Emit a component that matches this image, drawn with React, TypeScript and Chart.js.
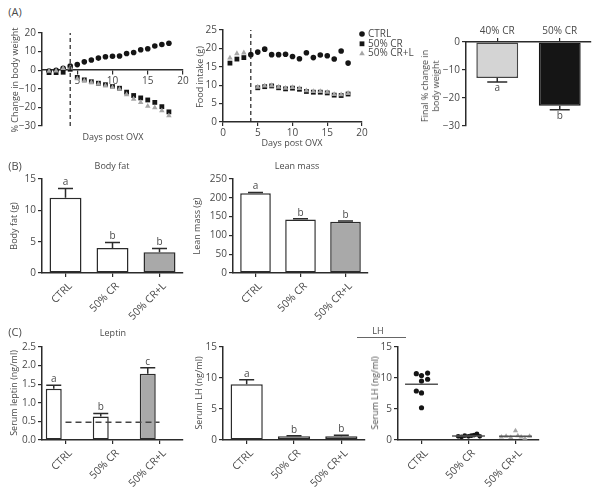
import React, { useEffect, useRef } from 'react';
import { Chart, registerables } from 'chart.js';
import { drawPoint } from 'chart.js/helpers';

Chart.register(...registerables);

const FONT = '"Open Sans", "Noto Sans", "DejaVu Sans", sans-serif';
const TXT = '#4a4a4a';
const AX = '#2b2b2b';
const BLACK = '#151515';
const GREY_MARK = '#a6a6a6';
const GREY_BAR = '#a9a9a9';
const LIGHT_BAR = '#d4d4d4';

// ---------------- Data ----------------
const days = [1, 2, 3, 4, 5, 6, 7, 8, 9, 10, 11, 12, 13, 14, 15, 16, 17, 18];
const ovxDay = 4;
const groupNames = ['CTRL', '50% CR', '50% CR+L'];

// (A) % change in body weight
const bwCtrl = [-0.5, 0, 1, 2.2, 3, 4.5, 5.5, 6.5, 7.2, 7.5, 7.6, 9, 9.5, 11, 11.5, 13, 13.8, 14.5];
const bwCR = [-1.3, -1.3, -1.1, 0.5, -3.9, -5.2, -6.2, -7, -7.8, -8.8, -9.7, -11.8, -13.6, -14.9, -16, -17.3, -19.6, -22.4];
const bwCRL = [-0.5, -0.4, 1, 1.3, -4.6, -5.6, -6.6, -7.4, -8.3, -9.3, -10.2, -13.1, -15.5, -17.3, -19.3, -20.2, -21.8, -24.5];

// (A) food intake (g)
const fiCtrl = [null, null, null, 18.3, 19.0, 19.8, 18.3, 18.3, 18.4, 17.8, 17.2, 18.8, 17.5, 18.2, 18.0, 17.1, 19.3, 16.0];
const fiCR = [16.0, 17.1, 17.5, null, 9.3, 9.6, 9.8, 9.3, 9.0, 9.2, 8.9, 8.3, 8.1, 8.1, 7.9, 7.3, 7.2, 7.6];
const fiCRL = [17.4, 18.6, 18.8, null, 9.5, 9.8, 9.9, 9.5, 9.2, 9.4, 9.1, 8.5, 8.3, 8.3, 8.1, 7.5, 7.4, 7.8];

// (A) final % change in body weight
const finalCats = ['40% CR', '50% CR'];
const finalChange = [-12.9, -22.8];
const finalErr = [1.4, 1.4];
const finalLetters = ['a', 'b'];

// (B)
const bodyFat = [12.0, 4.0, 3.3];
const bodyFatErr = [1.5, 0.85, 0.6];
const bodyFatLetters = ['a', 'b', 'b'];
const leanMass = [212, 142, 136];
const leanMassErr = [2, 2, 2];
const leanMassLetters = ['a', 'b', 'b'];

// (C)
const leptin = [1.38, 0.63, 1.78];
const leptinErr = [0.09, 0.08, 0.16];
const leptinLetters = ['a', 'b', 'c'];
const leptinLimit = 0.48;
const lhBar = [9.0, 0.62, 0.6];
const lhBarErr = [0.7, 0.08, 0.18];
const lhLetters = ['a', 'b', 'b'];

const lhCtrl = [10.7, 10.4, 10.8, 9.5, 9.8, 7.9, 7.6, 5.2];
const lhCtrlJit = [-0.11, 0, 0.13, 0, 0.13, -0.11, 0, 0];
const lhCR = [0.6, 0.5, 0.7, 0.6, 0.7, 0.8, 1.0, 0.6];
const lhCRJit = [-0.22, -0.15, -0.08, 0, 0.06, 0.12, 0.18, 0.24];
const lhCRL = [0.5, 0.6, 0.4, 1.5, 0.7, 0.5, 0.3, 0.6];
const lhCRLJit = [-0.3, -0.2, -0.1, 0, 0.05, 0.12, 0.2, 0.3];
const lhGroupMean = [9.0, 0.65, 0.6];

// ---------------- Helpers ----------------
type Box = {
  area: [number, number, number, number];
  yw: number; xh: number; xpos: 'bottom' | 'top' | 'center';
  pt: number; pr: number; pb: number;
};

const tickFont = { family: FONT, size: 10 };
const catFont = { family: FONT, size: 10.5 };
const gridOpts = { drawOnChartArea: false, drawTicks: true, tickLength: 4, color: AX, lineWidth: 1.2, offset: false };
const borderOpts = { color: AX, width: 1.5 };
const minus = (v: any) => String(v).replace('-', '\u2212');

const fixY = (w: number) => (s: any) => {
  s.width = w; s.paddingTop = 0; s.paddingBottom = 0; s.paddingLeft = 0; s.paddingRight = 0;
};
const fixX = (h: number) => (s: any) => {
  s.height = h; s.paddingTop = 0; s.paddingBottom = 0; s.paddingLeft = 0; s.paddingRight = 0;
};

const pts = (xs: number[], ys: (number | null)[]) =>
  xs.map((x, i) => ({ x, y: ys[i] })).filter((p) => p.y !== null);

const errorBars = {
  id: 'errorBars',
  afterDatasetsDraw(chart: any, _a: any, opts: any) {
    if (!opts || !opts.errors) return;
    const meta = chart.getDatasetMeta(0);
    const ys = chart.scales.y;
    const data = chart.data.datasets[0].data;
    const ctx = chart.ctx;
    ctx.save();
    ctx.strokeStyle = AX;
    ctx.lineWidth = 1.5;
    ctx.fillStyle = TXT;
    ctx.font = `10px ${FONT}`;
    ctx.textAlign = 'center';
    meta.data.forEach((bar: any, i: number) => {
      const v = data[i];
      const sign = v < 0 ? -1 : 1;
      const y0 = ys.getPixelForValue(v);
      const y1 = ys.getPixelForValue(v + sign * opts.errors[i]);
      const x = bar.x;
      const cap = opts.cap || 15;
      ctx.beginPath();
      ctx.moveTo(x, y0);
      ctx.lineTo(x, y1);
      ctx.moveTo(x - cap / 2, y1);
      ctx.lineTo(x + cap / 2, y1);
      ctx.stroke();
      if (opts.letters) {
        ctx.textBaseline = sign > 0 ? 'bottom' : 'top';
        ctx.fillText(opts.letters[i], x, sign > 0 ? y1 - 1 : y1 + 1);
      }
    });
    ctx.restore();
  },
};

const inlineLegend = {
  id: 'inlineLegend',
  afterDraw(chart: any, _a: any, opts: any) {
    if (!opts || !opts.items) return;
    const { ctx, chartArea } = chart;
    ctx.save();
    ctx.font = `10px ${FONT}`;
    ctx.textBaseline = 'middle';
    ctx.textAlign = 'left';
    opts.items.forEach((idx: number, i: number) => {
      const ds = chart.data.datasets[idx];
      const x = chartArea.right + opts.dx;
      const y = chartArea.top + opts.dy + i * opts.gap;
      ctx.fillStyle = ds.backgroundColor;
      ctx.strokeStyle = ds.backgroundColor;
      drawPoint(ctx, { pointStyle: ds.pointStyle, radius: ds.pointRadius, borderWidth: 0, rotation: 0 } as any, x, y);
      ctx.fillStyle = TXT;
      ctx.fillText(ds.label, x + opts.tx, y);
    });
    ctx.restore();
  },
};

function canvasRect(b: Box) {
  const [x0, y0, x1, y1] = b.area;
  const W = b.yw + (x1 - x0) + b.pr;
  let top: number;
  let H: number;
  if (b.xpos === 'top') {
    top = y0 - b.xh - b.pt;
    H = b.pt + b.xh + (y1 - y0) + b.pb;
  } else if (b.xpos === 'bottom') {
    top = y0 - b.pt;
    H = b.pt + (y1 - y0) + b.xh + b.pb;
  } else {
    top = y0 - b.pt;
    H = b.pt + (y1 - y0) + b.pb;
  }
  return { left: x0 - b.yw, top, W, H };
}

function ChartBox({ box, make }: { box: Box; make: () => any }) {
  const ref = useRef<HTMLCanvasElement>(null);
  const r = canvasRect(box);
  useEffect(() => {
    const cfg = make();
    const chart = new Chart(ref.current as HTMLCanvasElement, cfg);
    return () => chart.destroy();
  }, []);
  return (
    <canvas
      ref={ref}
      width={r.W}
      height={r.H}
      style={{ position: 'absolute', left: r.left, top: r.top, width: r.W, height: r.H }}
    />
  );
}

function baseOptions(b: Box) {
  return {
    responsive: false,
    animation: false,
    events: [],
    devicePixelRatio: 1,
    layout: { padding: { left: 0, top: b.pt, right: b.pr, bottom: b.pb } },
  };
}

function yAxis(b: Box, min: number, max: number, step: number, fmt?: (v: any) => string) {
  return {
    type: 'linear',
    position: 'left',
    min, max,
    afterFit: fixY(b.yw),
    grid: gridOpts,
    border: borderOpts,
    ticks: { stepSize: step, color: TXT, font: tickFont, padding: 2, callback: fmt || ((v: any) => String(v)) },
  };
}

const catTicks = { color: TXT, font: catFont, padding: 3, labelOffset: 5, maxRotation: 45, minRotation: 45, autoSkip: false };

// ---------------- Chart configs ----------------
const boxA1: Box = { area: [42, 33, 183, 126], yw: 40, xh: 0, xpos: 'center', pt: 8, pr: 10, pb: 8 };
const boxA2: Box = { area: [223, 30, 362, 122], yw: 30, xh: 20, xpos: 'bottom', pt: 8, pr: 80, pb: 2 };
const boxA3: Box = { area: [466, 42, 591, 126], yw: 34, xh: 20, xpos: 'top', pt: 2, pr: 6, pb: 6 };
const boxB1: Box = { area: [42, 179, 183, 273], yw: 30, xh: 55, xpos: 'bottom', pt: 10, pr: 10, pb: 0 };
const boxB2: Box = { area: [233, 179, 368, 273], yw: 32, xh: 55, xpos: 'bottom', pt: 10, pr: 10, pb: 0 };
const boxC1: Box = { area: [42, 347, 183, 440], yw: 30, xh: 60, xpos: 'bottom', pt: 8, pr: 10, pb: 0 };
const boxC2: Box = { area: [223, 347, 365, 440], yw: 30, xh: 60, xpos: 'bottom', pt: 8, pr: 10, pb: 0 };
const boxC3: Box = { area: [398, 347, 539, 440], yw: 30, xh: 60, xpos: 'bottom', pt: 8, pr: 10, pb: 0 };

function markerSets(ctrl: (number | null)[], cr: (number | null)[], crl: (number | null)[]) {
  return [
    { label: groupNames[0], data: pts(days, ctrl), pointStyle: 'circle', pointRadius: 2.8, backgroundColor: BLACK, borderColor: BLACK, borderWidth: 0, order: 3 },
    { label: groupNames[1], data: pts(days, cr), pointStyle: 'rect', pointRadius: 3.4, backgroundColor: BLACK, borderColor: BLACK, borderWidth: 0, order: 2 },
    { label: groupNames[2], data: pts(days, crl), pointStyle: 'triangle', pointRadius: 3.2, backgroundColor: GREY_MARK, borderColor: GREY_MARK, borderWidth: 0, order: 1 },
  ];
}

function makeA1() {
  return {
    type: 'scatter',
    data: {
      datasets: [
        { label: 'OVX', data: [{ x: ovxDay, y: -30 }, { x: ovxDay, y: 20 }], showLine: true, borderColor: '#222', borderWidth: 1.2, borderDash: [4, 3], pointRadius: 0, order: 0 },
        ...markerSets(bwCtrl, bwCR, bwCRL),
      ],
    },
    options: {
      ...baseOptions(boxA1),
      plugins: { legend: { display: false }, tooltip: { enabled: false } },
      scales: {
        x: {
          type: 'linear', position: { y: 0 }, min: 0, max: 20,
          afterFit: fixX(0),
          grid: gridOpts, border: borderOpts,
          ticks: { stepSize: 5, color: TXT, font: tickFont, padding: 1, callback: (v: any) => (v === 0 ? '' : String(v)) },
        },
        y: yAxis(boxA1, -30, 20, 10, minus),
      },
    },
  };
}

function makeA2() {
  return {
    type: 'scatter',
    data: {
      datasets: [
        { label: 'OVX', data: [{ x: ovxDay, y: 0 }, { x: ovxDay, y: 25 }], showLine: true, borderColor: '#222', borderWidth: 1.2, borderDash: [4, 3], pointRadius: 0, order: 0 },
        ...markerSets(fiCtrl, fiCR, fiCRL),
      ],
    },
    plugins: [inlineLegend],
    options: {
      ...baseOptions(boxA2),
      plugins: {
        legend: { display: false }, tooltip: { enabled: false },
        inlineLegend: { items: [1, 2, 3], dx: 0, dy: 4, gap: 9.8, tx: 6 },
      },
      scales: {
        x: {
          type: 'linear', position: 'bottom', min: 0, max: 20,
          afterFit: fixX(boxA2.xh),
          grid: gridOpts, border: borderOpts,
          ticks: { stepSize: 5, color: TXT, font: tickFont, padding: 1 },
        },
        y: yAxis(boxA2, 0, 25, 5),
      },
    },
  };
}

function makeA3() {
  return {
    type: 'bar',
    data: {
      labels: finalCats,
      datasets: [{
        data: finalChange,
        backgroundColor: [LIGHT_BAR, BLACK],
        borderColor: ['#444', BLACK],
        borderWidth: 1.5,
        borderSkipped: false,
        barPercentage: 0.67,
        categoryPercentage: 1,
      }],
    },
    plugins: [errorBars],
    options: {
      ...baseOptions(boxA3),
      plugins: {
        legend: { display: false }, tooltip: { enabled: false },
        errorBars: { errors: finalErr, letters: finalLetters, cap: 20 },
      },
      scales: {
        x: {
          type: 'category', position: 'top',
          afterFit: fixX(boxA3.xh),
          grid: gridOpts, border: borderOpts,
          ticks: { color: TXT, font: tickFont, padding: 1, maxRotation: 0, minRotation: 0 },
        },
        y: yAxis(boxA3, -30, 0, 10, minus),
      },
    },
  };
}

function makeBar(b: Box, values: number[], errs: number[], letters: string[], min: number, max: number, step: number, fmt?: (v: any) => string, extra?: any) {
  const datasets: any[] = [{
    data: values,
    backgroundColor: ['#ffffff', '#ffffff', GREY_BAR],
    borderColor: AX,
    borderWidth: 1.5,
    borderSkipped: false,
    barPercentage: 0.68,
    categoryPercentage: 1,
    order: 1,
  }];
  const scales: any = {
    x: {
      type: 'category', position: 'bottom',
      afterFit: fixX(b.xh),
      grid: gridOpts, border: borderOpts,
      ticks: catTicks,
    },
    y: yAxis(b, min, max, step, fmt),
  };
  if (extra) {
    datasets.push(extra.dataset);
    scales.x2 = extra.scale;
  }
  return {
    type: 'bar',
    data: { labels: groupNames, datasets },
    plugins: [errorBars],
    options: {
      ...baseOptions(b),
      plugins: {
        legend: { display: false }, tooltip: { enabled: false },
        errorBars: { errors: errs, letters, cap: 15 },
      },
      scales,
    },
  };
}

function makeC1() {
  return makeBar(boxC1, leptin, leptinErr, leptinLetters, 0, 2.5, 0.5, (v: any) => Number(v).toFixed(1), {
    dataset: {
      type: 'line', xAxisID: 'x2',
      data: [{ x: 0, y: leptinLimit }, { x: 1, y: leptinLimit }],
      borderColor: '#444', borderWidth: 1.5, borderDash: [6, 4], pointRadius: 0, order: 0, clip: false,
    },
    scale: { type: 'linear', display: false, min: 0, max: 1 },
  });
}

function makeC3() {
  const jit = (c: number, vals: number[], j: number[]) => vals.map((v, i) => ({ x: c + j[i], y: v }));
  const meanLine = (c: number, m: number) => ({
    data: [{ x: c - 0.35, y: m }, { x: c + 0.35, y: m }],
    showLine: true, borderColor: '#555', borderWidth: 1.5, pointRadius: 0, order: 0,
  });
  return {
    type: 'scatter',
    data: {
      datasets: [
        meanLine(1, lhGroupMean[0]),
        meanLine(2, lhGroupMean[1]),
        meanLine(3, lhGroupMean[2]),
        { data: jit(1, lhCtrl, lhCtrlJit), pointStyle: 'circle', pointRadius: 2.6, backgroundColor: BLACK, borderWidth: 0, order: 3 },
        { data: jit(2, lhCR, lhCRJit), pointStyle: 'circle', pointRadius: 2.4, backgroundColor: BLACK, borderWidth: 0, order: 2 },
        { data: jit(3, lhCRL, lhCRLJit), pointStyle: 'triangle', pointRadius: 3, backgroundColor: GREY_MARK, borderWidth: 0, order: 1 },
      ],
    },
    options: {
      ...baseOptions(boxC3),
      plugins: { legend: { display: false }, tooltip: { enabled: false } },
      scales: {
        x: {
          type: 'linear', position: 'bottom', min: 0.5, max: 3.5,
          afterFit: fixX(boxC3.xh),
          afterBuildTicks: (s: any) => { s.ticks = [1, 2, 3].map((v) => ({ value: v })); },
          grid: gridOpts, border: borderOpts,
          ticks: { ...catTicks, callback: (v: any) => groupNames[Math.round(v) - 1] || '' },
        },
        y: yAxis(boxC3, 0, 15, 5),
      },
    },
  };
}

// ---------------- Text ----------------
function T({ x, y, s = 9, rot = 0, children, lh }: { x: number; y: number; s?: number; rot?: number; children: any; lh?: number }) {
  return (
    <div
      style={{
        position: 'absolute', left: x, top: y,
        transform: `translate(-50%, -50%) rotate(${rot}deg)`,
        fontFamily: FONT, fontSize: s, color: TXT, whiteSpace: 'nowrap',
        lineHeight: lh ? `${lh}px` : 1.1, textAlign: 'center',
      }}
    >
      {children}
    </div>
  );
}

export default function App() {
  return (
    <div style={{ position: 'absolute', left: 0, top: 0, width: 600, height: 487, background: '#fff', overflow: 'hidden' }}>
      <ChartBox box={boxA1} make={makeA1} />
      <ChartBox box={boxA2} make={makeA2} />
      <ChartBox box={boxA3} make={makeA3} />
      <ChartBox box={boxB1} make={() => makeBar(boxB1, bodyFat, bodyFatErr, bodyFatLetters, 0, 15, 5)} />
      <ChartBox box={boxB2} make={() => makeBar(boxB2, leanMass, leanMassErr, leanMassLetters, 0, 250, 50)} />
      <ChartBox box={boxC1} make={makeC1} />
      <ChartBox box={boxC2} make={() => makeBar(boxC2, lhBar, lhBarErr, lhLetters, 0, 15, 5)} />
      <ChartBox box={boxC3} make={makeC3} />

      <T x={15} y={12} s={11}>(A)</T>
      <T x={15} y={166} s={11}>(B)</T>
      <T x={15} y={332} s={11}>(C)</T>

      <T x={15} y={80} rot={-90}>% Change in body weight</T>
      <T x={113} y={137}>Days post OVX</T>
      <T x={200} y={77} rot={-90}>Food intake (g)</T>
      <T x={292} y={143}>Days post OVX</T>
      <T x={430} y={86} rot={-90} lh={11}>Final % change in<br />body weight</T>

      <T x={112} y={166}>Body fat</T>
      <T x={297} y={166}>Lean mass</T>
      <T x={14} y={226} rot={-90}>Body fat (g)</T>
      <T x={197} y={226} rot={-90}>Lean mass (g)</T>

      <T x={113} y={333}>Leptin</T>
      <T x={378} y={331}>LH</T>
      <div style={{ position: 'absolute', left: 357, top: 337, width: 49, height: 0, borderTop: '1.2px solid #666' }} />
      <T x={14} y={393} rot={-90}>Serum leptin (ng/ml)</T>
      <T x={199} y={393} rot={-90}>Serum LH (ng/ml)</T>
      <T x={375} y={393} rot={-90}>Serum LH (ng/ml)</T>
    </div>
  );
}
